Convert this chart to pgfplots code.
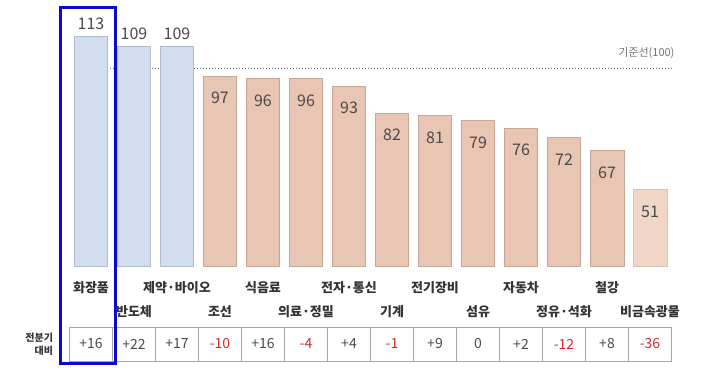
\documentclass[border=0pt]{standalone}
\usepackage{pgfplots}
\pgfplotsset{compat=1.18}
\usepackage{fontspec}
\setmainfont{Noto Sans CJK KR}
\definecolor{blueF}{HTML}{D2DDF0}
\definecolor{blueD}{HTML}{B2BCCC}
\definecolor{oraF}{HTML}{E9C5B3}
\definecolor{oraD}{HTML}{C6A898}
\definecolor{ora2F}{HTML}{F1D5C7}
\definecolor{ora2D}{HTML}{D8C0B4}
\definecolor{valtxt}{HTML}{4A4A4A}
\definecolor{cattxt}{HTML}{333333}
\definecolor{negred}{HTML}{D42A2A}
\definecolor{hl}{RGB}{10,10,215}
\begin{document}
\begin{tikzpicture}
\begin{axis}[
  width=713pt, height=384pt, scale only axis,
  xmin=-2.116, xmax=14.465, ymin=-27.6, ymax=127.86,
  hide axis, clip=false,
  y coord trafo/.code={\pgfmathparse{#1-20}},
  y coord inv trafo/.code={\pgfmathparse{#1+20}},
]
\path[use as bounding box] (rel axis cs:0,0) rectangle (rel axis cs:1,1);
% reference line
\draw[dotted, line width=1pt, black!60] (axis cs:-0.395,100) -- (axis cs:13.53,100);
\node[anchor=east, text=black!55, font=\fontsize{11}{13}\selectfont] at (axis cs:13.65,106.4) {기준선(100)};

% blue bars
\addplot[ybar, bar shift=0pt, bar width=0.79, fill=blueF, draw=blueD, line width=1pt,
  nodes near coords, point meta=explicit symbolic,
  every node near coord/.style={anchor=center, yshift=13pt, text=valtxt, font=\fontsize{16}{18}\selectfont}]
  table[meta=l] {
x y l
0 113 113
1 109 109
2 109 109
};
% orange bars
\addplot[ybar, bar shift=0pt, bar width=0.79, fill=oraF, draw=oraD, line width=1pt,
  nodes near coords, point meta=explicit symbolic,
  every node near coord/.style={anchor=center, yshift=-22pt, text=valtxt, font=\fontsize{16}{18}\selectfont}]
  table[meta=l] {
x y l
3 97 97
4 96 96
5 96 96
6 93 93
7 82 82
8 81 81
9 79 79
10 76 76
11 72 72
12 67 67
};
\addplot[ybar, bar shift=0pt, bar width=0.79, fill=ora2F, draw=ora2D, line width=1pt,
  nodes near coords, point meta=explicit symbolic,
  every node near coord/.style={anchor=center, yshift=-22pt, text=valtxt, font=\fontsize{16}{18}\selectfont}]
  table[meta=l] {
x y l
13 51 51
};

% category labels
\addplot[draw=none, nodes near coords, point meta=explicit symbolic,
  every node near coord/.style={anchor=center, text=cattxt, font=\bfseries\fontsize{13}{15}\selectfont}]
  table[meta=l] {
x y l
0 11.3 화장품
2 11.3 제약·바이오
4 11.3 식음료
6 11.3 전자·통신
8 11.3 전기장비
10 11.3 자동차
12 11.3 철강
1 1.6 반도체
3 1.6 조선
5 1.6 의료·정밀
7 1.6 기계
9 1.6 섬유
11 1.6 정유·석화
13 1.6 비금속광물
};

% table
\draw[black!35, line width=0.8pt] (axis cs:-0.5,-4.5) rectangle (axis cs:13.5,-18.3);
\pgfplotsinvokeforeach{0.5,1.5,...,12.5}{
  \draw[black!35, line width=0.8pt] (axis cs:#1,-4.5) -- (axis cs:#1,-18.3);
}
\addplot[draw=none, nodes near coords, point meta=explicit symbolic,
  every node near coord/.style={anchor=center, text=valtxt, font=\fontsize{14}{16}\selectfont}]
  table[meta=l] {
x y l
0 -11.4 +16
1 -11.4 +22
2 -11.4 +17
4 -11.4 +16
6 -11.4 +4
8 -11.4 +9
9 -11.4 0
10 -11.4 +2
12 -11.4 +8
};
\addplot[draw=none, nodes near coords, point meta=explicit symbolic,
  every node near coord/.style={anchor=center, text=negred, font=\fontsize{14}{16}\selectfont}]
  table[meta=l] {
x y l
3 -11.4 -10
5 -11.4 -4
7 -11.4 -1
11 -11.4 -12
13 -11.4 -36
};
\node[anchor=east, align=right, text=cattxt, font=\bfseries\fontsize{10}{13}\selectfont] at (axis cs:-0.80,-11.4) {전분기\\대비};

% highlight box
\draw[hl, line width=3pt] (axis cs:-0.70,125.0) rectangle (axis cs:0.574,-19.1);
\end{axis}
\end{tikzpicture}
\end{document}
